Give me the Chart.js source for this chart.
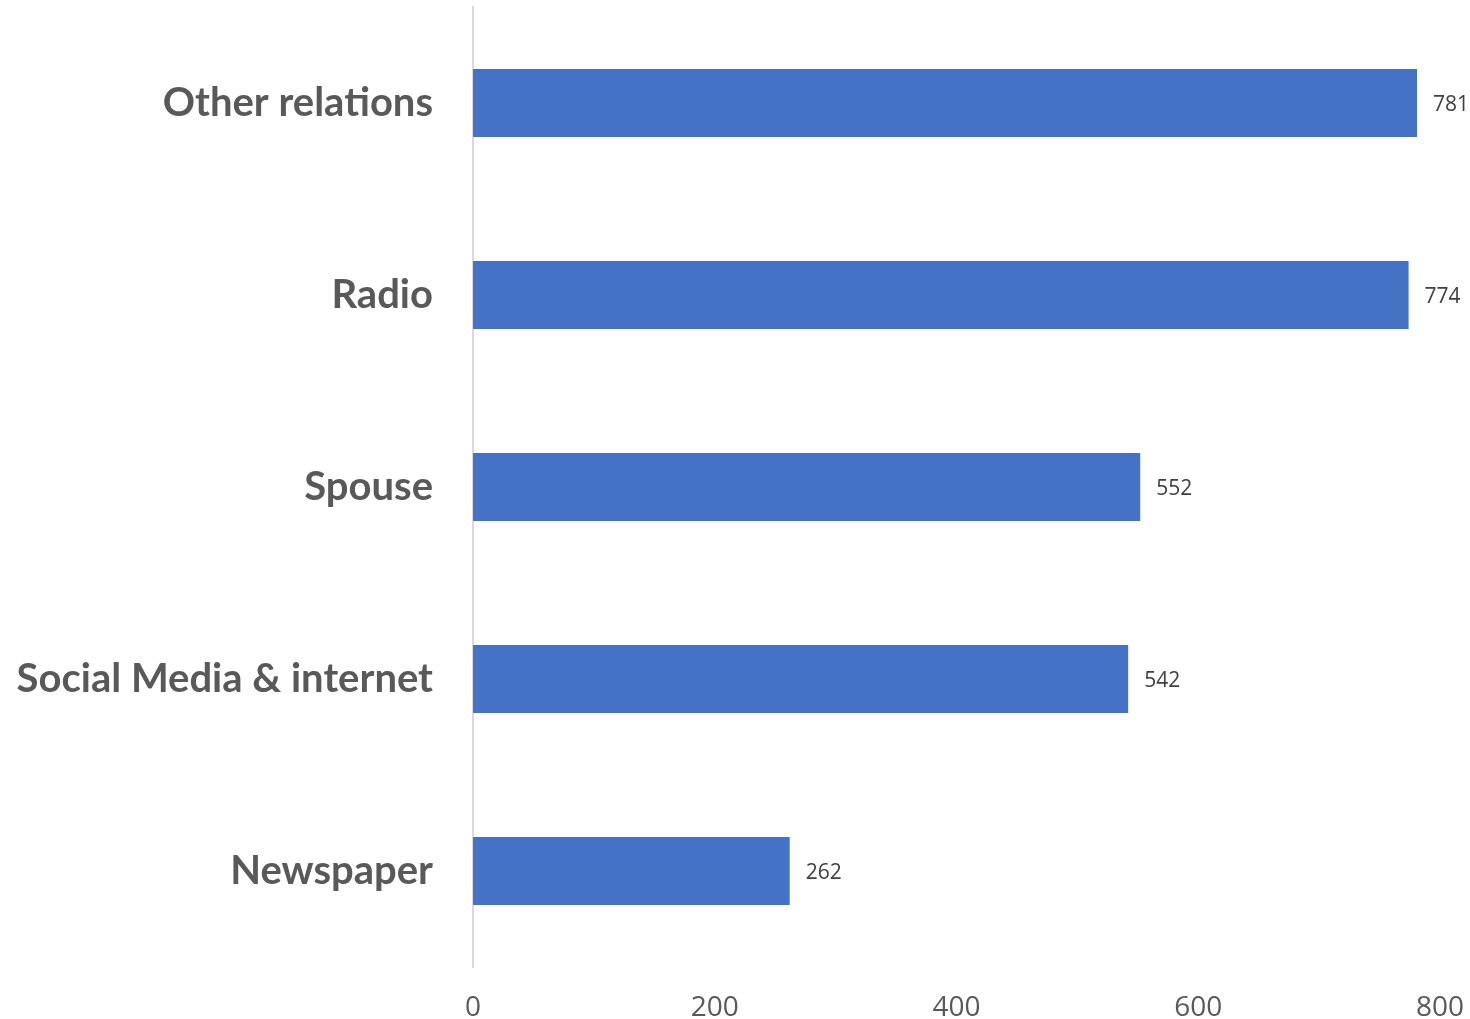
<!DOCTYPE html>
<html><head><meta charset="utf-8">
<script src="https://cdn.jsdelivr.net/npm/chart.js@4"></script>
<style>html,body{margin:0;padding:0;background:#fff;}#wrap{width:1470px;height:1019px;}</style>
</head><body><div id="wrap"><canvas id="c" width="1470" height="1019"></canvas></div>
<script>
const categories = ["Other relations", "Radio", "Spouse", "Social Media & internet", "Newspaper"];
const values = [781, 774, 552, 542, 262];
const tickValues = [0, 200, 400, 600, 800];

const valueLabels = {
  id: 'valueLabels',
  afterDatasetsDraw(chart) {
    const ctx = chart.ctx;
    const meta = chart.getDatasetMeta(0);
    ctx.save();
    ctx.font = '21px "Open Sans", sans-serif';
    ctx.fillStyle = '#404040';
    ctx.textAlign = 'left';
    ctx.textBaseline = 'middle';
    meta.data.forEach((bar, i) => {
      ctx.fillText(String(chart.data.datasets[0].data[i]), bar.x + 16, bar.y + 2);
    });
    ctx.restore();
  }
};

new Chart(document.getElementById('c'), {
  type: 'bar',
  data: {
    labels: categories,
    datasets: [{ data: values, backgroundColor: '#4472C4', categoryPercentage: 1, barPercentage: 0.354 }]
  },
  options: {
    indexAxis: 'y',
    responsive: false,
    animation: false,
    layout: { padding: { left: 0, top: 7, right: 30, bottom: 0 } },
    plugins: { legend: { display: false }, tooltip: { enabled: false } },
    scales: {
      x: {
        min: 0, max: 800,
        afterBuildTicks(axis) { axis.ticks = tickValues.map(v => ({ value: v })); },
        afterFit(axis) { axis.height = 52; axis.paddingLeft = 0; axis.paddingRight = 0; },
        grid: { display: false, drawTicks: false },
        border: { display: false },
        ticks: { padding: 24, color: '#595959', font: { family: '"Open Sans", sans-serif', size: 28 } }
      },
      y: {
        afterFit(axis) { axis.width = 473; axis.paddingTop = 0; axis.paddingBottom = 0; },
        grid: { display: false, drawTicks: false },
        border: { display: true, color: '#d9d9d9', width: 2 },
        ticks: { padding: 40, color: '#595959', font: { family: 'Lato, sans-serif', size: 40, weight: 'bold' } }
      }
    }
  },
  plugins: [valueLabels]
});
</script></body></html>
